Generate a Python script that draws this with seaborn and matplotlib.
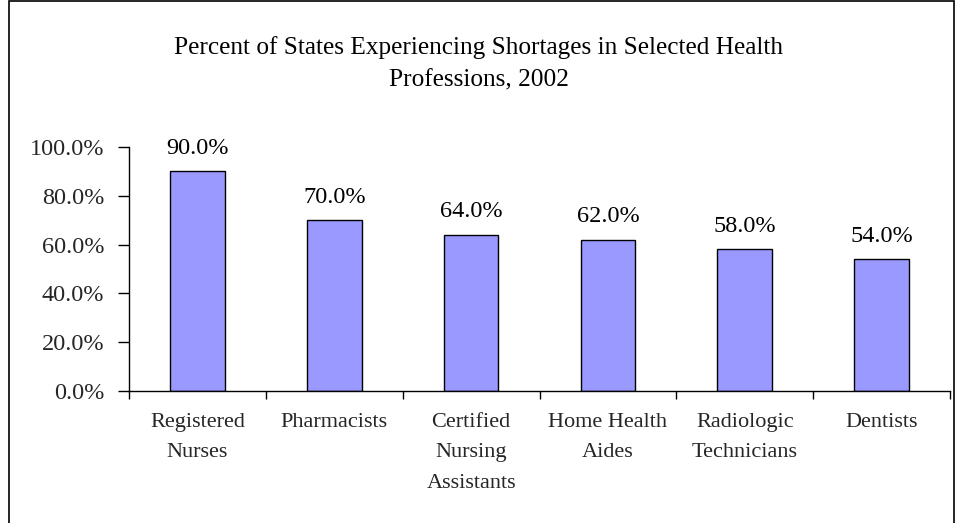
import matplotlib
matplotlib.use("Agg")
import matplotlib.pyplot as plt
from matplotlib.patches import Rectangle
from matplotlib.ticker import FuncFormatter, FixedLocator
import pandas as pd
import seaborn as sns

# data
professions = [
    "Registered\nNurses",
    "Pharmacists",
    "Certified\nNursing\nAssistants",
    "Home Health\nAides",
    "Radiologic\nTechnicians",
    "Dentists",
]
percent_short = [90.0, 70.0, 64.0, 62.0, 58.0, 54.0]
y_ticks = [0, 20, 40, 60, 80, 100]
title = "Percent of States Experiencing Shortages in Selected Health\nProfessions, 2002"

df = pd.DataFrame({"profession": professions, "percent": percent_short})

sns.set_theme(style="white")
plt.rcParams["font.family"] = ["Liberation Serif", "DejaVu Serif"]

fig = plt.figure(figsize=(9.56, 5.23), dpi=100)
ax = fig.add_axes([0.135, 0.2524, 0.8587, 0.4665])

sns.barplot(data=df, x="profession", y="percent", color="#9999FF",
            edgecolor="black", linewidth=1.0, width=0.4, saturation=1, ax=ax)

for i, v in enumerate(percent_short):
    ax.annotate(f"{v:.1f}%", (i, v), xytext=(0, 9), textcoords="offset points",
                ha="center", va="bottom", fontsize=17.5, color="black")

ax.set_ylim(0, 100)
ax.set_xlim(-0.5, len(professions) - 0.5)
ax.set_yticks(y_ticks)
ax.yaxis.set_major_formatter(FuncFormatter(lambda v, p: f"{v:.1f}%"))
ax.tick_params(axis="y", which="major", length=8, width=1, color="black",
               labelsize=17.5, pad=10, left=True)
ax.tick_params(axis="x", which="major", length=0, labelsize=16, pad=16)
ax.xaxis.set_minor_locator(FixedLocator([i - 0.5 for i in range(len(professions) + 1)]))
ax.tick_params(axis="x", which="minor", length=6, width=1, color="black", bottom=True)
for lbl in ax.get_xticklabels():
    lbl.set_linespacing(1.8)
ax.set_xlabel("")
ax.set_ylabel("")
for s in ["top", "right"]:
    ax.spines[s].set_visible(False)
for s in ["left", "bottom"]:
    ax.spines[s].set_color("black")
    ax.spines[s].set_linewidth(1)

fig.text(0.5005, 0.878, title, ha="center", va="center", fontsize=18.2,
         linespacing=1.6, color="black")

fig.patches.append(Rectangle((0.0094, -0.01), 0.988, 1.008, transform=fig.transFigure,
                             fill=False, edgecolor="black", linewidth=1.2))

fig.savefig("out.png", dpi=100)
